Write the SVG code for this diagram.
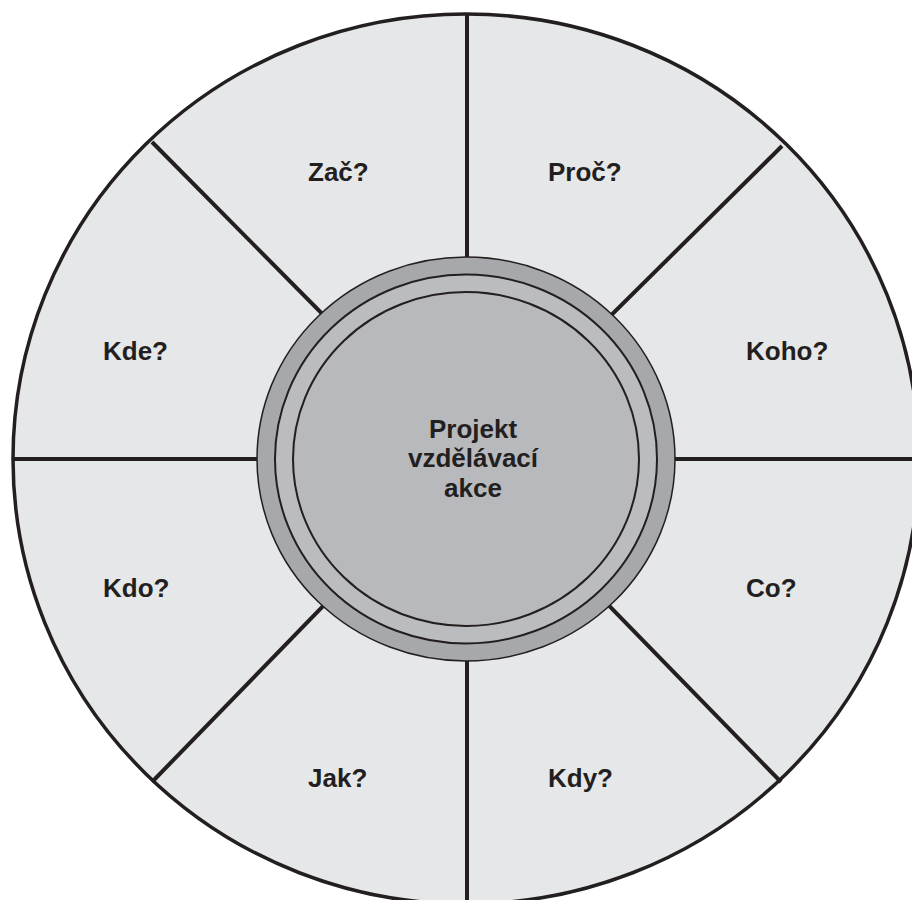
<svg xmlns="http://www.w3.org/2000/svg" width="912" height="900" viewBox="0 0 912 900">
<style>
.lbl{font-family:"Liberation Sans",Arial,sans-serif;font-weight:bold;font-size:26px;fill:#231f20}
.ctr{font-family:"Liberation Sans",Arial,sans-serif;font-weight:bold;font-size:26px;fill:#231f20;text-anchor:middle}
.div{stroke:#231f20;stroke-width:4;fill:none}
</style>
<rect width="912" height="900" fill="#ffffff"/>
<g id="wheel">
<ellipse cx="466" cy="459" rx="453" ry="445" fill="#e6e7e8" stroke="#231f20" stroke-width="3.5"/>
</g>
<g id="connectors">
<line class="div" x1="467" y1="14" x2="467" y2="459"/>
<line class="div" x1="467" y1="459" x2="467" y2="905"/>
<line class="div" x1="12" y1="459" x2="466" y2="459"/>
<line class="div" x1="466" y1="459" x2="912" y2="459"/>
<line class="div" x1="152" y1="142" x2="466" y2="459"/>
<line class="div" x1="782" y1="146" x2="466" y2="459"/>
<line class="div" x1="152" y1="782" x2="466" y2="459"/>
<line class="div" x1="781" y1="782" x2="466" y2="459"/>
</g>
<g id="center">
<ellipse cx="466" cy="459" rx="209" ry="202" fill="#a7a8ab" stroke="#231f20" stroke-width="1.5"/>
<ellipse cx="466" cy="459" rx="191" ry="184.5" fill="#bbbcbf" stroke="#231f20" stroke-width="2"/>
<ellipse cx="466" cy="459" rx="173" ry="167" fill="#b8b9bc" stroke="#231f20" stroke-width="2"/>
<text class="ctr" x="473" y="438">Projekt</text>
<text class="ctr" x="473" y="467">vzdělávací</text>
<text class="ctr" x="473" y="497">akce</text>
</g>
<g id="n-zac"><text class="lbl" x="308" y="181">Zač?</text></g>
<g id="n-proc"><text class="lbl" x="548" y="181">Proč?</text></g>
<g id="n-kde"><text class="lbl" x="103" y="360">Kde?</text></g>
<g id="n-koho"><text class="lbl" x="746" y="360">Koho?</text></g>
<g id="n-kdo"><text class="lbl" x="103" y="597">Kdo?</text></g>
<g id="n-co"><text class="lbl" x="746" y="597">Co?</text></g>
<g id="n-jak"><text class="lbl" x="308" y="787">Jak?</text></g>
<g id="n-kdy"><text class="lbl" x="548" y="787">Kdy?</text></g>
</svg>
